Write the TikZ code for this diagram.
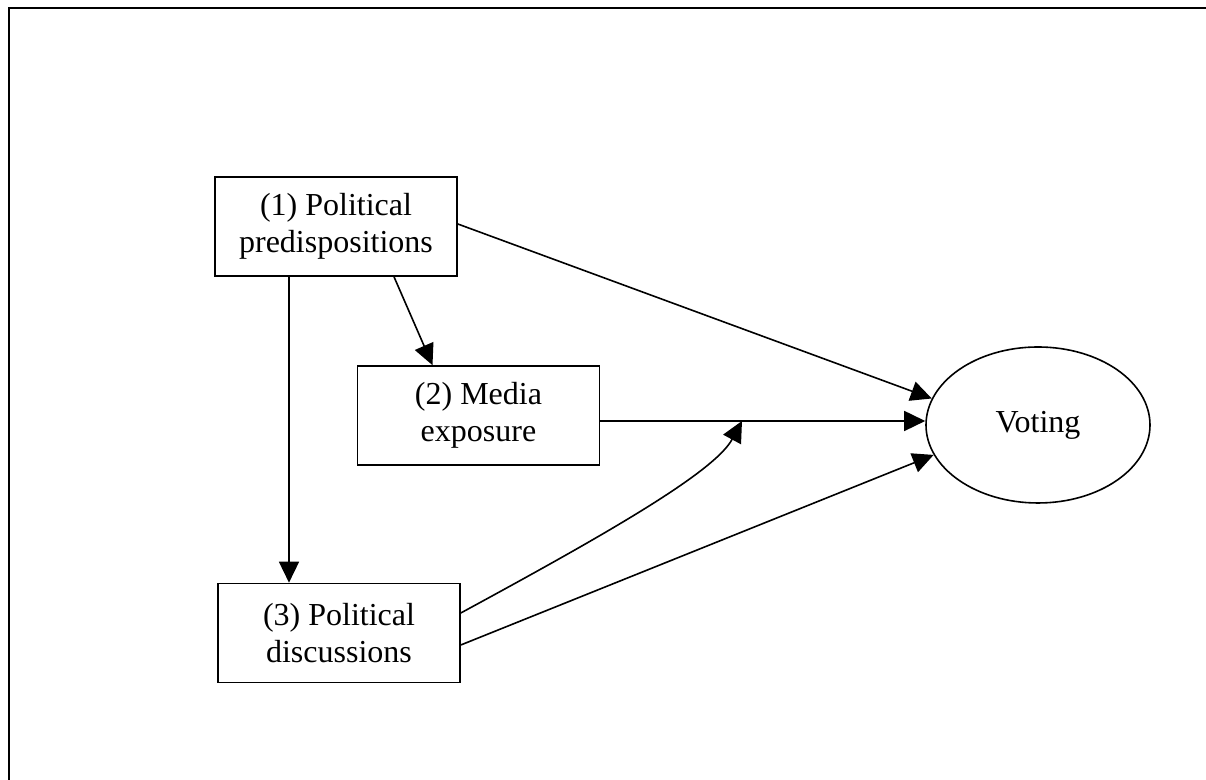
\documentclass[tikz,border=0pt]{standalone}
\usepackage{fontspec}
\setmainfont{Liberation Serif}
\usetikzlibrary{arrows.meta,shapes.geometric}

\begin{document}
\begin{tikzpicture}[x=0.5pt, y=0.5pt,
        box/.style={draw, line width=0.8pt, minimum width=121pt, minimum height=49.5pt,
            inner sep=0pt, align=center, font=\fontsize{16}{18.5}\selectfont},
        arr/.style={-{Triangle[length=10.5pt, width=10pt]}, line width=0.8pt}]
        \useasboundingbox (0, 0) rectangle (1206, 780);
        \draw [line width=0.9pt] (9, -10) |- (1216, 772);
            \node[box] (predisp) at (336, 553.5) {(1) Political\\predispositions};
            \node[box] (media) at (478.5, 364.5) {(2) Media\\exposure};
            \node[box] (discuss) at (339, 147) {(3) Political\\discussions};
            \node[draw, ellipse, line width=0.8pt, minimum width=112pt, minimum height=78pt,
                inner sep=0pt, font=\fontsize{16}{18.5}\selectfont] (voting) at (1038, 355) {Voting};
            \coordinate (join) at (742, 359);
        \draw[arr] ([xshift=-23.5pt]predisp.south) -- ([xshift=-23.5pt]predisp.south |- discuss.north);
        \draw[arr] ([xshift=29pt]predisp.south) -- ([xshift=-23pt]media.north);
        \draw[arr] ([yshift=1.25pt]predisp.east) -- (voting.166);
        \draw[arr] ([yshift=-2.75pt]media.east) -- ([yshift=-2.75pt]media.east -| voting.west);
        \draw[arr] ([yshift=10pt]discuss.east) .. controls +(70pt,38pt) and +(-14pt,-26pt) .. (join);
        \draw[arr] ([yshift=-6pt]discuss.east) -- (voting.196);
\end{tikzpicture}
\end{document}
